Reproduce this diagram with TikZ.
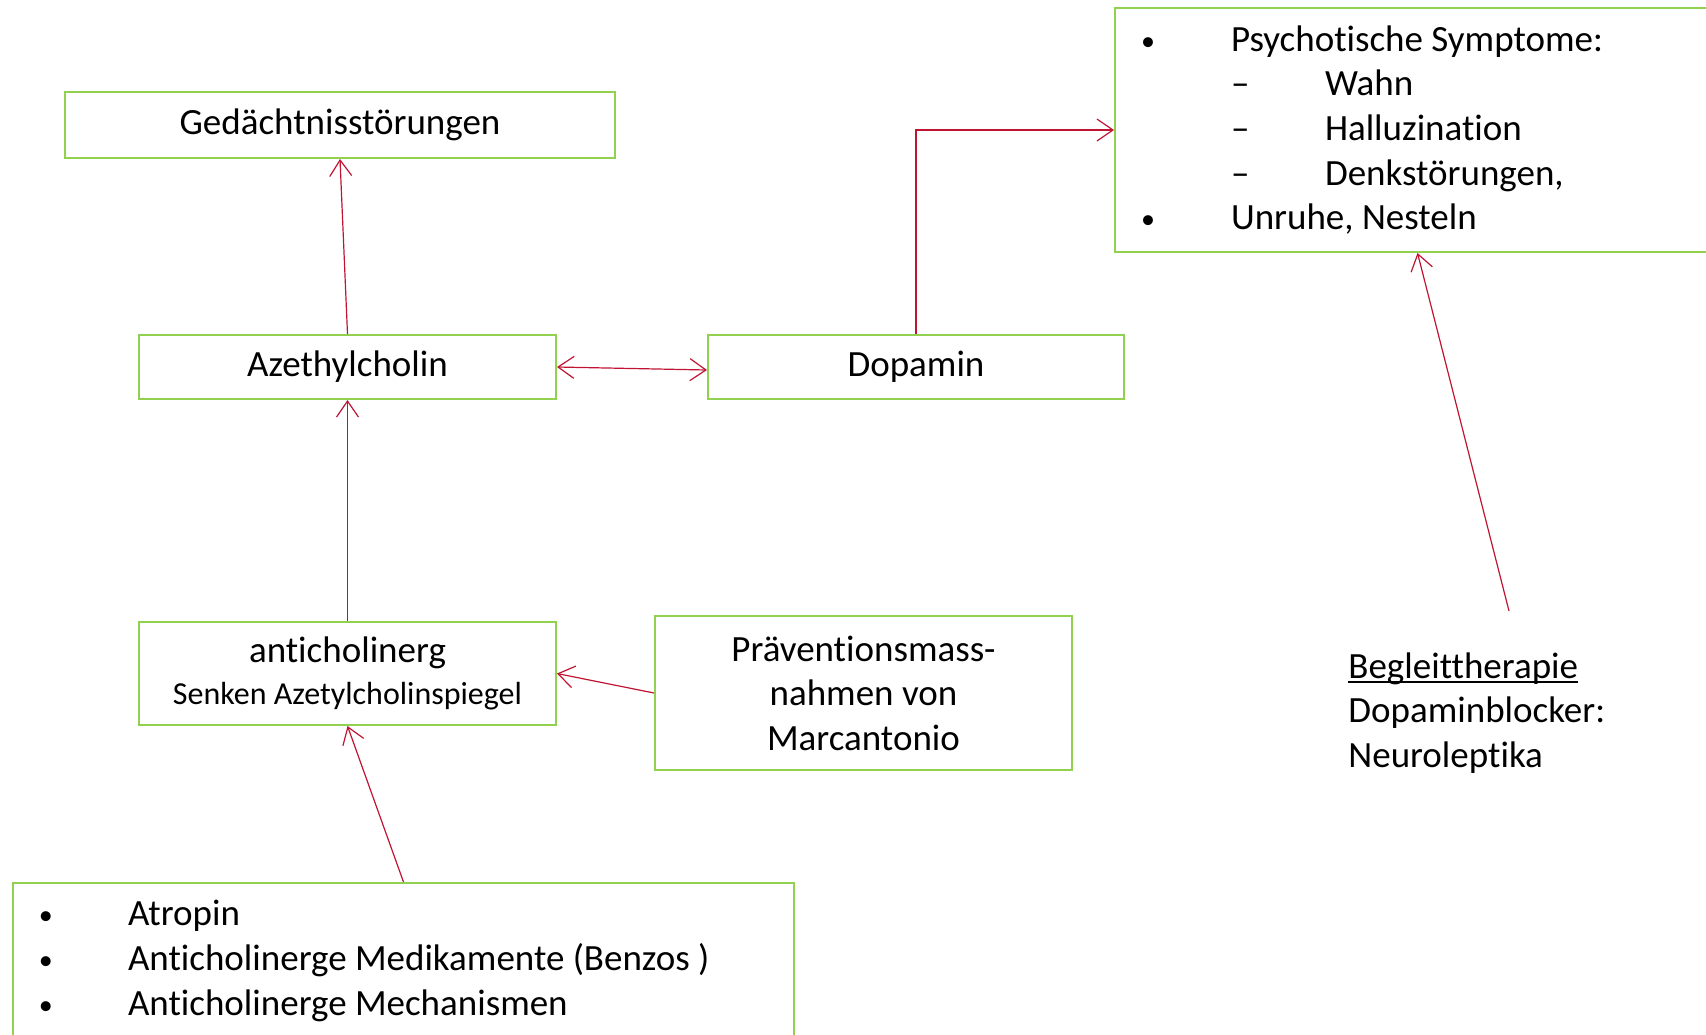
\documentclass[tikz,border=0pt]{standalone}
\usepackage{fontspec}
\setmainfont[RawFeature={-liga;-clig;-calt;-dlig}]{Carlito}
\usetikzlibrary{arrows.meta,positioning,calc}
\definecolor{BoxGreen}{RGB}{146,208,80}
\definecolor{LinkRed}{RGB}{192,20,50}
\newcommand{\blt}[1]{\makebox[#1][l]{\fontsize{14}{14}\selectfont\raisebox{0.5pt}{•}}}
\newcommand{\undr}[1]{\setbox0\hbox{#1}\rlap{\rule[-2.4pt]{\wd0}{0.9pt}}\box0}

\begin{document}
\begin{tikzpicture}[
  x=0.5pt,y=-0.5pt,
  box/.style={draw=BoxGreen,line width=1pt,inner sep=0pt,align=center,
              font=\fontsize{18.5}{22.3}\selectfont},
  listbox/.style={box,align=flush left,inner xsep=13pt},
  arrow/.style={-{Straight Barb[length=8pt,width=11pt]},draw=LinkRed,line width=0.6pt}
]
\useasboundingbox (0,0) rectangle (1706,1034);
% boxes
\node[box,minimum width=275pt,minimum height=33pt] (ged) at (340,125) {Gedächtnisstörungen};
\node[box,minimum width=208.5pt,minimum height=32pt] (aze) at (347.5,367) {Azethylcholin};
\node[box,minimum width=208pt,minimum height=32pt] (dop) at (916,367) {Dopamin};
\node[listbox,text width=276.5pt,minimum height=122pt] (sym) at (1417.5,130)
  {\blt{45pt}Psychotische Symptome:\\
   \hspace*{45pt}\makebox[47pt][l]{–}Wahn\\
   \hspace*{45pt}\makebox[47pt][l]{–}Halluzination\\
   \hspace*{45pt}\makebox[47pt][l]{–}Denkstörungen,\\
   \blt{45pt}Unruhe, Nesteln};
\node[box,minimum width=208.5pt,minimum height=51.5pt] (anti) at (347.5,673.5)
  {anticholinerg\\[-1pt]{\fontsize{16}{19}\selectfont Senken Azetylcholinspiegel}};
\node[box,minimum width=208.5pt,minimum height=77pt] (praev) at (863.5,693)
  {Präventionsmass-\\nahmen von\\Marcantonio};
\node[listbox,text width=364.5pt,minimum height=78pt] (mech) at (403.5,961)
  {\blt{44.5pt}Atropin\\
   \blt{44.5pt}Anticholinerge Medikamente (Benzos )\\
   \blt{44.5pt}Anticholinerge Mechanismen};
\node[inner sep=0pt,anchor=west,align=flush left,font=\fontsize{18.5}{22.3}\selectfont] (begl) at (1348,713)
  {\undr{Begleittherapie}\\Dopaminblocker:\\Neuroleptika};
\coordinate (beglTop) at (1509,611);
% connectors
\draw[arrow] (aze.north) -- (ged.south);
\draw[arrow,{Straight Barb[length=8pt,width=11pt]}-{Straight Barb[length=8pt,width=11pt]}] (aze.east) -- ([yshift=-1.5pt]dop.west);
\draw[arrow] (dop.north) |- (sym.west);
\draw[arrow] (anti.north) -- (aze.south);
\draw[arrow] (praev.west) -- (anti.east);
\draw[arrow] (mech.north) -- (anti.south);
\draw[arrow] (beglTop) -- (sym.south);
\end{tikzpicture}
\end{document}
